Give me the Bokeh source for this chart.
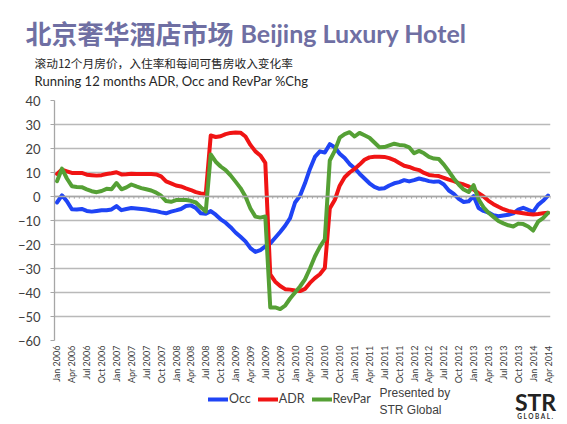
import math
from bokeh.plotting import figure
from bokeh.layouts import column
from bokeh.models import Range1d, FixedTicker, Label, Legend, LegendItem, Span
from bokeh.embed import file_html
from bokeh.resources import INLINE

# ---- data (Jan 2006 .. Apr 2014, monthly, % change) ----
tick_labels = [
    "Jan 2006", "Apr 2006", "Jul 2006", "Oct 2006",
    "Jan 2007", "Apr 2007", "Jul 2007", "Oct 2007",
    "Jan 2008", "Apr 2008", "Jul 2008", "Oct 2008",
    "Jan 2009", "Apr 2009", "Jul 2009", "Oct 2009",
    "Jan 2010", "Apr 2010", "Jul 2010", "Oct 2010",
    "Jan 2011", "Apr 2011", "Jul 2011", "Oct 2011",
    "Jan 2012", "Apr 2012", "Jul 2012", "Oct 2012",
    "Jan 2013", "Apr 2013", "Jul 2013", "Oct 2013",
    "Jan 2014", "Apr 2014",
]
tick_step = 3

occ = [
    -2.5, 0.5, -2.0, -5.3, -5.4, -5.2, -6.0, -6.3, -6.0, -5.7,
    -5.7, -5.4, -4.0, -5.7, -5.2, -4.8, -5.0, -5.2, -5.4, -5.8,
    -6.1, -6.6, -7.0, -6.3, -5.8, -5.2, -4.0, -3.7, -4.8, -7.0,
    -7.2, -6.1, -7.6, -9.5, -10.9, -12.8, -15.0, -16.8, -18.7, -21.5,
    -23.1, -22.3, -20.8, -19.5, -17.2, -14.8, -12.2, -9.0, -2.5, 0.3,
    5.5, 11.5, 16.5, 18.8, 18.3, 21.8, 20.5, 17.8, 16.0, 13.5,
    11.8, 9.5, 7.5, 5.5, 4.0, 3.2, 3.4, 4.6, 5.5, 6.0,
    6.8, 6.3, 6.8, 7.5, 7.0, 6.4, 6.1, 6.3, 5.0, 2.5,
    1.1, -1.0, -2.3, -2.0, 0.2, -4.8, -6.0, -6.7, -7.8, -8.2,
    -7.9, -7.6, -7.0, -5.5, -4.7, -5.6, -6.4, -3.5, -1.8, 0.4,
]
adr = [
    9.4, 11.2, 10.5, 9.8, 9.8, 9.8, 9.1, 8.9, 8.7, 8.9,
    9.4, 9.7, 10.1, 9.2, 9.3, 9.5, 9.4, 9.4, 9.4, 9.4,
    9.2, 8.4, 6.3, 5.5, 4.6, 4.2, 3.4, 2.7, 1.8, 1.3,
    1.1, 25.4, 24.8, 25.1, 26.0, 26.5, 26.7, 26.6, 25.0, 21.5,
    18.8, 17.1, 14.0, -32.5, -35.5, -37.3, -38.6, -38.8, -39.2, -39.4,
    -38.5, -36.0, -34.0, -32.4, -29.8, -5.0, -1.5, 4.5, 8.0, 10.0,
    11.5, 13.3, 15.3, 16.3, 16.6, 16.6, 16.5, 16.0, 15.2, 14.0,
    12.8, 12.3, 11.5, 11.0, 9.8, 9.0, 8.7, 8.5, 7.8, 7.0,
    6.4, 5.6, 5.0, 4.2, 2.9, 1.4, 0.0, -1.8, -3.2, -4.3,
    -5.3, -6.0, -6.4, -6.7, -7.0, -7.3, -7.5, -7.3, -7.0, -6.8,
]
revpar = [
    6.4, 11.6, 7.5, 4.3, 4.0, 3.9, 3.0, 2.2, 1.8, 2.3,
    3.2, 3.0, 5.6, 3.0, 3.8, 5.0, 4.2, 3.5, 3.0, 2.5,
    1.6, 0.3, -1.9, -2.2, -1.5, -1.5, -1.5, -1.8, -2.5, -4.5,
    -6.2, 17.5, 14.5, 12.5, 11.0, 8.8, 6.2, 3.5, 0.0, -5.0,
    -8.4, -8.8, -8.3, -46.2, -46.2, -46.9, -45.5, -42.5, -40.0, -37.5,
    -34.5, -30.0, -25.0, -21.0, -17.8, 15.0, 19.0, 24.5, 26.0, 26.8,
    25.0, 26.5, 25.5, 24.5, 22.5, 20.5, 20.6, 21.3, 22.0, 21.5,
    21.3, 20.5, 18.0, 19.0, 18.0, 16.5, 15.8, 15.6, 13.3, 10.5,
    7.5, 5.0, 2.9, 1.9, 4.7, -1.2, -4.5, -6.8, -8.5, -10.2,
    -11.2, -12.0, -12.5, -11.3, -11.5, -12.5, -14.2, -10.5, -9.0, -6.8,
]
series_names = ["Occ", "ADR", "RevPar"]
series_colors = ["#1f44f5", "#f01414", "#55a035"]
y_ticks = list(range(-60, 41, 10))

n = len(occ)
xs = list(range(n))

W = 567
TXT = "#404040"
TITLE = "#6f6fa3"


def no_align(f):
    if "frame_align" in f.properties():
        f.frame_align = False


def blank(height, y_top, y_bottom):
    f = figure(width=W, height=height, output_backend="svg", toolbar_location=None,
               x_range=Range1d(0, W), y_range=Range1d(y_bottom, y_top),
               x_axis_type=None, y_axis_type=None,
               min_border=0, min_border_left=0, min_border_right=0,
               min_border_top=0, min_border_bottom=0)
    f.outline_line_color = None
    f.grid.visible = False
    no_align(f)
    return f


def lab(f, text, x, y, font, size, color, bold=False, align="left"):
    f.add_layout(Label(x=x, y=y, text=text, text_font=font, text_font_size=size,
                       text_color=color, text_font_style="bold" if bold else "normal",
                       text_baseline="middle", text_align=align))


# ---- header (titles) ----
head = blank(92, 0, 92)
lab(head, "北京奢华酒店市场", 25, 32, "Noto Sans CJK SC", "26px", TITLE, bold=True)
lab(head, "Beijing Luxury Hotel", 240, 32, "Lato", "25px", TITLE, bold=True)
lab(head, "滚动12个月房价，入住率和每间可售房收入变化率", 34, 62, "Noto Sans CJK SC", "11.7px", "#262626")
lab(head, "Running 12 months ADR, Occ and RevPar %Chg", 34, 80, "Lato", "13px", "#262626")

# ---- main chart ----
p = figure(width=W, height=294, output_backend="svg", toolbar_location=None,
           x_range=Range1d(-0.5, n - 0.5), y_range=Range1d(-60, 40),
           min_border_left=54, min_border_right=17,
           min_border_top=8, min_border_bottom=44)
no_align(p)
p.outline_line_color = None
p.xgrid.visible = False
p.ygrid.grid_line_color = "#b9b9b9"
p.ygrid.grid_line_width = 1.3
p.ygrid.ticker = FixedTicker(ticks=y_ticks)

p.yaxis.ticker = FixedTicker(ticks=y_ticks)
p.yaxis.axis_line_color = "#a6a6a6"
p.yaxis.axis_line_width = 1.3
p.yaxis.major_tick_line_color = "#a6a6a6"
p.yaxis.major_tick_out = 4
p.yaxis.major_tick_in = 0
p.yaxis.minor_tick_line_color = None
p.yaxis.minor_tick_out = 0
p.yaxis.major_label_text_font = "Lato"
p.yaxis.major_label_text_font_size = "13px"
p.yaxis.major_label_text_color = TXT
p.yaxis.major_label_standoff = 10

tick_pos = list(range(0, n, tick_step))
p.xaxis.ticker = FixedTicker(ticks=tick_pos)
p.xaxis.major_label_overrides = {t: s for t, s in zip(tick_pos, tick_labels)}
p.xaxis.major_label_orientation = math.pi / 2
p.xaxis.axis_line_color = None
p.xaxis.major_tick_line_color = None
p.xaxis.minor_tick_line_color = None
p.xaxis.major_tick_out = 0
p.xaxis.major_tick_in = 0
p.xaxis.minor_tick_out = 0
p.xaxis.major_label_text_font = "Lato"
p.xaxis.major_label_text_font_size = "9px"
p.xaxis.major_label_text_color = TXT
p.xaxis.major_label_standoff = 5

# category axis line crossing at zero, with monthly tick marks
p.add_layout(Span(location=0, dimension="width", line_color="#a6a6a6", line_width=1.3))
bounds = [i - 0.5 for i in range(n + 1)]
p.segment(x0=bounds, y0=[-0.9] * len(bounds), x1=bounds, y1=[0.2] * len(bounds),
          line_color="#a6a6a6", line_width=1)

for vals, col in zip([occ, adr, revpar], series_colors):
    p.line(xs, vals, line_color=col, line_width=4, line_join="round", line_cap="round")

# ---- footer (legend, credits) ----
foot = blank(36, 386, 422)
nan = float("nan")
samples = [foot.line(x=[nan, nan], y=[nan, nan], line_color=c, line_width=4, line_cap="round")
           for c in series_colors]
legend = Legend(items=[LegendItem(label=nm, renderers=[r]) for nm, r in zip(series_names, samples)],
                orientation="horizontal", location=(208, 16),
                background_fill_alpha=0, border_line_color=None,
                padding=0, margin=0, spacing=7, label_standoff=1,
                glyph_width=20, glyph_height=14, label_height=14,
                label_text_font="Lato", label_text_font_size="12.5px",
                label_text_color=TXT)
foot.add_layout(legend)
lab(foot, "Presented by", 379, 392, "Liberation Sans", "12px", TXT)
lab(foot, "STR Global", 379, 409, "Liberation Sans", "12px", TXT)
lab(foot, "STR", 535, 401, "Lato", "23px", "#222222", bold=True, align="center")
lab(foot, "G L O B A L .", 535, 416, "Lato", "6.5px", "#333333", bold=True, align="center")

layout = column(head, p, foot, spacing=0)
open("out.html", "w").write(file_html(layout, INLINE))
